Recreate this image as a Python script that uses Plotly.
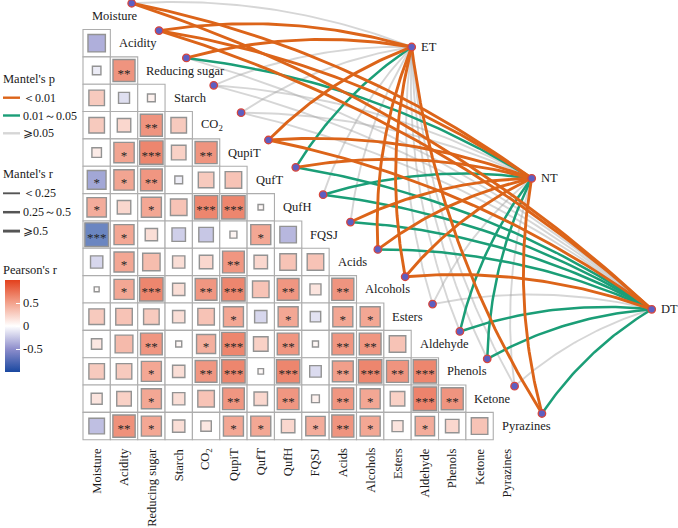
import numpy as np
import plotly.graph_objects as go

# ---------------- data ----------------
variables = ["Moisture", "Acidity", "Reducing sugar", "Starch", "CO<sub>2</sub>", "QupiT",
             "QufT", "QufH", "FQSJ", "Acids", "Alcohols", "Esters", "Aldehyde",
             "Phenols", "Ketone", "Pyrazines"]

# lower triangle Pearson's r (row i vs columns 0..i-1)
pearson_r = [
    [],
    [-0.50],
    [-0.12, 0.80],
    [0.40, -0.20, 0.10],
    [0.40, 0.30, 0.80, 0.40],
    [0.15, 0.68, 0.90, 0.35, 0.80],
    [-0.58, 0.68, 0.78, -0.10, 0.40, 0.45],
    [0.62, 0.30, 0.66, 0.45, 0.90, 0.90, 0.05],
    [-0.92, 0.66, 0.25, -0.30, -0.35, 0.08, 0.66, -0.45],
    [-0.25, 0.66, 0.50, 0.25, 0.30, 0.78, 0.30, 0.45, 0.45],
    [0.04, 0.66, 0.90, 0.25, 0.78, 0.90, 0.45, 0.78, 0.20, 0.80],
    [0.40, 0.45, 0.40, 0.25, 0.45, 0.66, -0.25, 0.66, -0.18, 0.66, 0.66],
    [0.18, 0.52, 0.78, 0.06, 0.60, 0.90, 0.35, 0.78, 0.06, 0.78, 0.78, 0.45],
    [0.40, 0.40, 0.66, 0.25, 0.78, 0.90, 0.05, 0.90, -0.22, 0.72, 0.90, 0.80, 0.90],
    [0.20, 0.35, 0.66, 0.25, 0.45, 0.78, 0.30, 0.78, 0.10, 0.78, 0.66, 0.35, 0.92, 0.80],
    [-0.40, 0.82, 0.66, 0.25, 0.18, 0.66, 0.66, 0.30, 0.62, 0.80, 0.66, 0.20, 0.62, 0.30, 0.45],
]

signif = [
    [],
    [""],
    ["", "**"],
    ["", "", ""],
    ["", "", "**", ""],
    ["", "*", "***", "", "**"],
    ["*", "*", "**", "", "", ""],
    ["*", "", "*", "", "***", "***", ""],
    ["***", "*", "", "", "", "", "*", ""],
    ["", "*", "", "", "", "**", "", "", ""],
    ["", "*", "***", "", "**", "***", "", "**", "", "**"],
    ["", "", "", "", "", "*", "", "*", "", "*", "*"],
    ["", "", "**", "", "*", "***", "", "**", "", "**", "**", ""],
    ["", "", "*", "", "**", "***", "", "***", "", "**", "***", "**", "***"],
    ["", "", "*", "", "", "**", "", "**", "", "**", "*", "", "***", "**"],
    ["", "**", "*", "", "", "*", "*", "", "*", "**", "*", "", "*", "", ""],
]

env_names = ["ET", "NT", "DT"]
# Mantel's p class per variable (order of `variables`)
mantel_p_ET = ["ns", "<0.01", "<0.01", "ns", "ns", "<0.01", "0.01-0.05", "ns",
               "ns", "<0.01", "<0.01", "ns", "ns", "ns", "ns", "<0.01"]
mantel_p_NT = ["<0.01", "<0.01", "0.01-0.05", "ns", "ns", "<0.01", "<0.01", "0.01-0.05",
               "<0.01", "<0.01", "<0.01", "ns", "0.01-0.05", "0.01-0.05", "ns", "<0.01"]
mantel_p_DT = ["<0.01", "<0.01", "ns", "ns", "ns", "<0.01", "0.01-0.05", "0.01-0.05",
               "0.01-0.05", "0.01-0.05", "<0.01", "ns", "0.01-0.05", "0.01-0.05", "ns", "0.01-0.05"]
# Mantel's r class per variable
mantel_r_ET = ["<0.25", ">=0.5", ">=0.5", "<0.25", "<0.25", ">=0.5", "0.25-0.5", "<0.25",
               "<0.25", ">=0.5", ">=0.5", "<0.25", "<0.25", "<0.25", "<0.25", ">=0.5"]
mantel_r_NT = [">=0.5", ">=0.5", "0.25-0.5", "<0.25", "<0.25", ">=0.5", ">=0.5", "0.25-0.5",
               ">=0.5", ">=0.5", ">=0.5", "<0.25", "0.25-0.5", "0.25-0.5", "<0.25", ">=0.5"]
mantel_r_DT = [">=0.5", ">=0.5", "<0.25", "<0.25", "<0.25", ">=0.5", "0.25-0.5", "0.25-0.5",
               "0.25-0.5", "0.25-0.5", ">=0.5", "<0.25", "0.25-0.5", "0.25-0.5", "<0.25", "0.25-0.5"]

mantel_p = {"ET": mantel_p_ET, "NT": mantel_p_NT, "DT": mantel_p_DT}
mantel_r = {"ET": mantel_r_ET, "NT": mantel_r_NT, "DT": mantel_r_DT}

# ---------------- styles / layout ----------------
W, H = 678, 528
PX = 27.35                 # pixels per cell
GX0, GY0 = 83.0, 29.5      # grid left / top in pixels
SERIF = "Liberation Serif, Times New Roman, serif"
TXT = "#1a1a1a"
p_colors = {"<0.01": "#DC6419", "0.01-0.05": "#1B9E77", "ns": "rgba(165,165,165,0.45)"}
r_widths = {"<0.25": 1.9, "0.25-0.5": 2.5, ">=0.5": 2.9}
colorscale = [[0.0, "#1A48A0"], [0.25, "#8E8ECC"], [0.5, "#FFFFFF"],
              [0.75, "#F3A28C"], [1.0, "#E3401C"]]


def xd(px):
    return (px - GX0) / PX - 0.5


def yd(py):
    return (py - GY0) / PX + 0.5


n = len(variables)
fig = go.Figure()
shapes = []
annotations = []

# grid cells
for i in range(1, n):
    for j in range(i):
        shapes.append(dict(type="rect", xref="x", yref="y", x0=j - 0.5, x1=j + 0.5,
                           y0=i - 0.5, y1=i + 0.5, fillcolor="white",
                           line=dict(color="#ADADAD", width=1.1), layer="below"))

# squares
sx, sy, sr, ss = [], [], [], []
tx, ty, tt = [], [], []
for i in range(1, n):
    for j, r in enumerate(pearson_r[i]):
        sx.append(j)
        sy.append(i)
        sr.append(r)
        ss.append(np.sqrt(abs(r)) * PX * 0.9)
        if signif[i][j]:
            tx.append(j)
            ty.append(i + 0.14)
            tt.append(signif[i][j])

fig.add_trace(go.Scatter(
    x=sx, y=sy, mode="markers", hoverinfo="skip", showlegend=False,
    marker=dict(symbol="square", size=ss, color=sr, cmin=-1, cmax=1,
                colorscale=colorscale, line=dict(color="#666666", width=1.4),
                colorbar=dict(thickness=15, thicknessmode="pixels", len=92, lenmode="pixels",
                              x=5 / W, xanchor="left", y=1 - 326 / H, yanchor="middle",
                              xpad=0, ypad=0, outlinewidth=0,
                              tickvals=[-0.5, 0, 0.5], ticktext=["-0.5", "0", "0.5"],
                              ticks="inside", ticklen=4, tickcolor="white", tickwidth=1,
                              tickfont=dict(family=SERIF, size=12.5, color=TXT)))))

fig.add_trace(go.Scatter(
    x=tx, y=ty, mode="text", text=tt, hoverinfo="skip", showlegend=False,
    textfont=dict(family=SERIF, size=13, color="#262626")))

# row labels (right side of staircase)
for i, name in enumerate(variables):
    annotations.append(dict(x=i - 0.5 + 0.24, y=i, xref="x", yref="y", text=name,
                            showarrow=False, xanchor="left", yanchor="middle",
                            font=dict(family=SERIF, size=12.5, color=TXT)))
# bottom labels
for j, name in enumerate(variables):
    annotations.append(dict(x=j, y=yd(446), xref="x", yref="y", text=name, textangle=-90,
                            showarrow=False, xanchor="center", yanchor="top",
                            font=dict(family=SERIF, size=12.5, color=TXT)))

# node positions
var_dot = [(k + 1.28, k - 0.46) for k in range(n)]
env_pos = {"ET": (xd(411.7), yd(47)), "NT": (xd(531.7), yd(178.3)), "DT": (xd(651.7), yd(309.3))}


def curve(p0, p2, k=0.11, m=50):
    dx, dy = p2[0] - p0[0], p2[1] - p0[1]
    cx = (p0[0] + p2[0]) / 2 + k * dy
    cy = (p0[1] + p2[1]) / 2 - k * dx
    t = np.linspace(0, 1, m)
    x = (1 - t) ** 2 * p0[0] + 2 * (1 - t) * t * cx + t ** 2 * p2[0]
    y = (1 - t) ** 2 * p0[1] + 2 * (1 - t) * t * cy + t ** 2 * p2[1]
    return x, y


for cls in ["ns", "0.01-0.05", "<0.01"]:
    for e in env_names:
        for k in range(n):
            if mantel_p[e][k] != cls:
                continue
            x, y = curve(var_dot[k], env_pos[e])
            fig.add_trace(go.Scatter(x=x, y=y, mode="lines", hoverinfo="skip", showlegend=False,
                                     line=dict(color=p_colors[cls], width=r_widths[mantel_r[e][k]])))

# dots
fig.add_trace(go.Scatter(
    x=[p[0] for p in var_dot] + [env_pos[e][0] for e in env_names],
    y=[p[1] for p in var_dot] + [env_pos[e][1] for e in env_names],
    mode="markers", hoverinfo="skip", showlegend=False,
    marker=dict(size=7.5, color="#5D5FC2", line=dict(color="#D8463C", width=1.3))))

for e in env_names:
    annotations.append(dict(x=env_pos[e][0] + 0.26, y=env_pos[e][1], xref="x", yref="y", text=e,
                            showarrow=False, xanchor="left", yanchor="middle",
                            font=dict(family=SERIF, size=12.5, color=TXT)))

# ---------------- legends ----------------
def ptxt(px, py, text, size=12.5):
    annotations.append(dict(x=px / W, y=1 - py / H, xref="paper", yref="paper", text=text,
                            showarrow=False, xanchor="left", yanchor="middle",
                            font=dict(family=SERIF, size=size, color=TXT)))


def pline(py, color, width):
    shapes.append(dict(type="line", xref="paper", yref="paper", x0=3 / W, x1=20 / W,
                       y0=1 - py / H, y1=1 - py / H, line=dict(color=color, width=width)))


ptxt(1, 79, "Mantel's p")
p_leg = [("<0.01", "＜0.01"), ("0.01-0.05", "0.01～0.05"), ("ns", "⩾0.05")]
for idx, (cls, lab) in enumerate(p_leg):
    py = 97.7 + idx * 17.8
    pline(py, p_colors[cls], 2.4)
    ptxt(21, py, lab, 12)

ptxt(1, 174.3, "Mantel's r")
r_leg = [("<0.25", "＜0.25"), ("0.25-0.5", "0.25～0.5"), (">=0.5", "⩾0.5")]
for idx, (cls, lab) in enumerate(r_leg):
    py = 193.3 + idx * 18.9
    pline(py, "#555555", r_widths[cls])
    ptxt(21, py, lab, 12)

ptxt(1, 270, "Pearson's r")

fig.update_layout(
    width=W, height=H, margin=dict(l=0, r=0, t=0, b=0, pad=0, autoexpand=False),
    paper_bgcolor="white", plot_bgcolor="white", showlegend=False,
    xaxis=dict(range=[xd(0), xd(W)], visible=False, fixedrange=True),
    yaxis=dict(range=[yd(H), yd(0)], visible=False, fixedrange=True),
    shapes=shapes, annotations=annotations,
)

fig.write_html("out.html", config={"displayModeBar": False, "staticPlot": True},
               post_script="document.body.style.margin='0px';document.body.style.padding='0px';")
